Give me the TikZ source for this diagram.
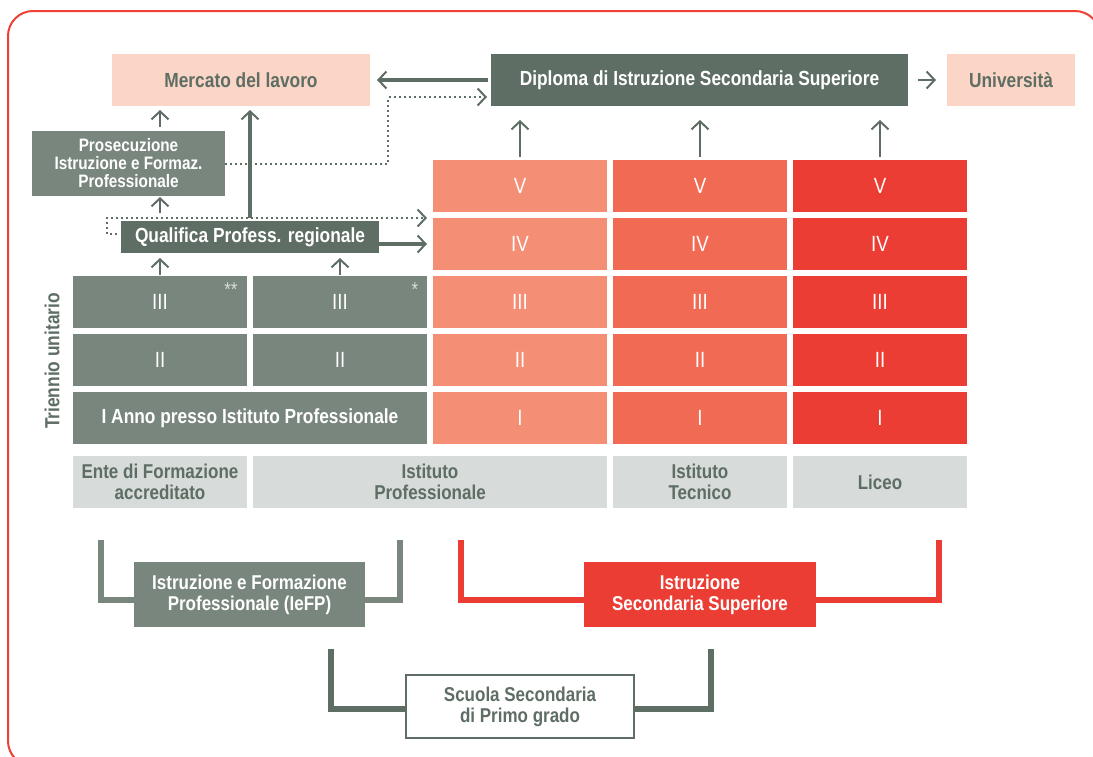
\documentclass[tikz,border=0pt]{standalone}
\usepackage{fontspec}
\setmainfont{Liberation Sans}[FakeStretch=0.85]
\usetikzlibrary{arrows.meta}
\definecolor{darkgreen}{HTML}{5E6E64}
\definecolor{midgreen}{HTML}{78867D}
\definecolor{peach}{HTML}{FBD5C6}
\definecolor{salmon}{HTML}{F48E74}
\definecolor{coral}{HTML}{F16B54}
\definecolor{liceored}{HTML}{EC3D34}
\definecolor{labelgray}{HTML}{D7DBD9}
\definecolor{framered}{HTML}{EE4035}
\begin{document}
\begin{tikzpicture}[x=0.5pt,y=-0.5pt,
    box/.style={inner sep=0pt,outer sep=0pt,align=center,
      font=\fontsize{10.2}{11}\selectfont\bfseries},
    cell/.style={box,minimum width=87pt,minimum height=26pt,text=white,
      font=\fontsize{11}{12}\selectfont},
    label/.style={box,fill=labelgray,text=darkgreen,minimum width=87pt,
      minimum height=26pt,font=\fontsize{10}{10.5}\selectfont\bfseries},
    arr/.style={draw=darkgreen,line width=1.2pt,
      -{Straight Barb[length=4pt,width=8.5pt,line width=1pt]}},
    dotline/.style={arr,line width=1pt,dash pattern=on 1pt off 1.5pt},
    bracket/.style={line width=3pt}]
  \useasboundingbox (0,0) rectangle (1093,756);
  \draw[framered,line width=1pt,rounded corners=12.5pt] (8,11) rectangle (1100,766);
  \path
    (241,80) node[box,fill=peach,text=darkgreen,minimum width=129pt,minimum height=26pt] (mercato) {Mercato del lavoro}
    (699.5,80) node[box,fill=darkgreen,text=white,minimum width=208.5pt,minimum height=26pt] (diploma) {Diploma di Istruzione Secondaria Superiore}
    (1011,80) node[box,fill=peach,text=darkgreen,minimum width=64pt,minimum height=26pt] (univ) {Università}
    (128.5,163.5) node[box,fill=midgreen,text=white,minimum width=96.5pt,minimum height=32.5pt,
      font=\fontsize{9}{9}\selectfont\bfseries] (prosec) {Prosecuzione\\Istruzione e Formaz.\\Professionale}
    (250,237) node[box,fill=darkgreen,text=white,minimum width=129pt,minimum height=16pt] (qualifica) {Qualifica Profess. regionale}
    (52,361) node[box,text=darkgreen,rotate=90] (triennio) {Triennio unitario};
  \path
    (520,186) node[cell,fill=salmon] (ip5) {V}
    (520,244) node[cell,fill=salmon] (ip4) {IV}
    (520,302) node[cell,fill=salmon] (ip3) {III}
    (520,360) node[cell,fill=salmon] (ip2) {II}
    (520,418) node[cell,fill=salmon] (ip1) {I}
    (700,186) node[cell,fill=coral] (tec5) {V}
    (700,244) node[cell,fill=coral] (tec4) {IV}
    (700,302) node[cell,fill=coral] (tec3) {III}
    (700,360) node[cell,fill=coral] (tec2) {II}
    (700,418) node[cell,fill=coral] (tec1) {I}
    (880,186) node[cell,fill=liceored] (lic5) {V}
    (880,244) node[cell,fill=liceored] (lic4) {IV}
    (880,302) node[cell,fill=liceored] (lic3) {III}
    (880,360) node[cell,fill=liceored] (lic2) {II}
    (880,418) node[cell,fill=liceored] (lic1) {I}
    (160,302) node[cell,fill=midgreen] (ente3) {III}
    (160,360) node[cell,fill=midgreen] (ente2) {II}
    (340,302) node[cell,fill=midgreen] (ipg3) {III}
    (340,360) node[cell,fill=midgreen] (ipg2) {II}
    (250,418) node[cell,fill=midgreen,minimum width=177pt,font=\fontsize{10.2}{11}\selectfont\bfseries] (ianno) {I Anno presso Istituto Professionale}
    (231,290) node[box,text=labelgray,font=\fontsize{10}{10}\selectfont] (ast2) {**}
    (415,290) node[box,text=labelgray,font=\fontsize{10}{10}\selectfont] (ast1) {*};
  \path
    (160,482) node[label] (ente) {Ente di Formazione\\accreditato}
    (430,482) node[label,minimum width=177pt] (ipl) {Istituto\\Professionale}
    (700,482) node[label] (tecl) {Istituto\\Tecnico}
    (880,482) node[label] (licl) {Liceo}
    (249.5,594.5) node[label,fill=midgreen,text=white,minimum width=115.5pt,minimum height=32.5pt] (iefp) {Istruzione e Formazione\\Professionale (IeFP)}
    (700,594.5) node[label,fill=liceored,text=white,minimum width=116pt,minimum height=32.5pt] (iss) {Istruzione\\Secondaria Superiore}
    (520,706.5) node[label,fill=white,draw=darkgreen,line width=0.6pt,minimum width=114pt,minimum height=31.5pt] (scuola) {Scuola Secondaria\\di Primo grado};
  \coordinate (gl) at (101,540);
  \coordinate (gr) at (400,540);
  \coordinate (rl) at (461,540);
  \coordinate (rr) at (939,540);
  \coordinate (dl) at (331,649);
  \coordinate (dr) at (711,649);
  % connectors
  \begin{scope}
    \draw[arr,line width=2pt,shorten <=1.5pt,shorten >=3.5pt] (diploma) -- (mercato);
    \draw[arr,shorten <=5pt,shorten >=5.5pt] (diploma) -- (univ);
    \draw[dotline,shorten >=2pt] (prosec.east) -- ++(163,0) |- ([yshift=-8.5pt]diploma.west);
    \draw[dotline,shorten >=3pt] ([xshift=-2pt,yshift=1.5pt]qualifica.west) -- ++(-10,0) |- (ip4.north west);
    \draw[arr,line width=2pt,shorten >=3pt] (qualifica.east |- ip4.west) -- (ip4.west);
    \draw[arr,line width=1.6pt,shorten <=1.5pt,shorten >=2pt] (qualifica.north) -- (qualifica.north |- mercato.south);
    \draw[arr,shorten <=2pt,shorten >=2pt] (ente3.north |- prosec.north) -- (ente3.north |- mercato.south);
    \draw[arr,shorten <=4pt,shorten >=0.5pt] (ente3.north |- qualifica.north) -- (ente3.north |- prosec.south);
    \draw[arr,shorten <=0.5pt,shorten >=2.5pt] (ente3.north) -- (ente3.north |- qualifica.south);
    \draw[arr,shorten <=0.5pt,shorten >=2.5pt] (ipg3.north) -- (ipg3.north |- qualifica.south);
    \draw[arr,shorten <=1.5pt,shorten >=7pt] (ip5.north) -- (ip5.north |- diploma.south);
    \draw[arr,shorten <=1.5pt,shorten >=7pt] (tec5.north) -- (tec5.north |- diploma.south);
    \draw[arr,shorten <=1.5pt,shorten >=7pt] (lic5.north) -- (lic5.north |- diploma.south);
  \end{scope}
  \begin{scope}[bracket]
    \draw[midgreen] (gl) |- ([yshift=-2.75pt]iefp.west);
    \draw[midgreen] (gr) |- ([yshift=-2.75pt]iefp.east);
    \draw[liceored] (rl) |- ([yshift=-2.75pt]iss.west);
    \draw[liceored] (rr) |- ([yshift=-2.75pt]iss.east);
    \draw[darkgreen] (dl) |- ([yshift=-1.25pt]scuola.west);
    \draw[darkgreen] (dr) |- ([yshift=-1.25pt]scuola.east);
  \end{scope}
\end{tikzpicture}
\end{document}
